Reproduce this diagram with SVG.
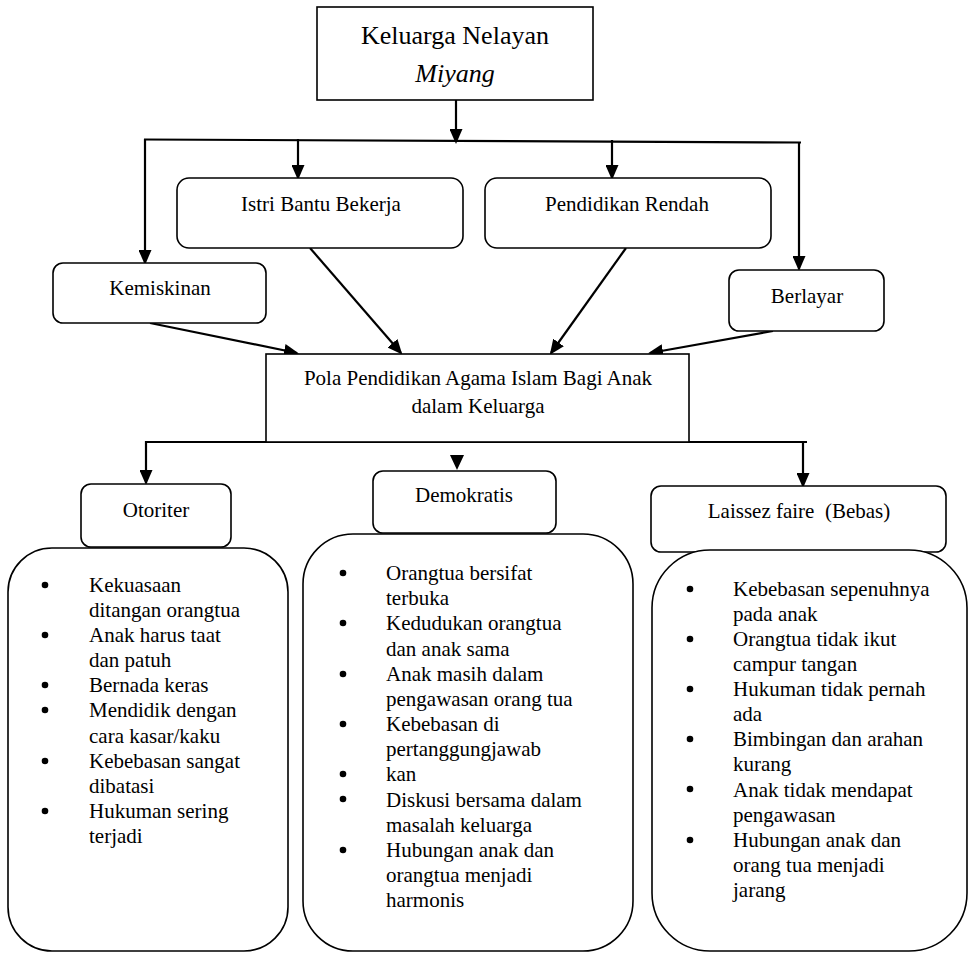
<svg xmlns="http://www.w3.org/2000/svg" width="971" height="953" viewBox="0 0 971 953">
<style>
text{font-family:"Liberation Serif","Times New Roman",serif;fill:#000;font-size:21px}
.box{fill:#fff;stroke:#000;stroke-width:1.6}
.c{stroke:#000;stroke-width:2.2;fill:none}
.m{text-anchor:middle}
.big{font-size:26px}
</style>
<defs>
<marker id="ah" markerUnits="userSpaceOnUse" markerWidth="15" markerHeight="13" refX="13" refY="6.5" orient="auto" viewBox="0 0 15 13">
<path d="M0,0 L15,6.5 L0,13 z" fill="#000"/>
</marker>
</defs>
<rect width="971" height="953" fill="#fff"/>
<g id="connectors">
<line class="c" x1="456" y1="100" x2="456" y2="142" marker-end="url(#ah)"/>
<line class="c" x1="144" y1="139.5" x2="801" y2="142.5"/>
<line class="c" x1="145" y1="139" x2="145" y2="263" marker-end="url(#ah)"/>
<line class="c" x1="298" y1="139" x2="298" y2="178" marker-end="url(#ah)"/>
<line class="c" x1="612" y1="140" x2="612" y2="178" marker-end="url(#ah)"/>
<line class="c" x1="799" y1="142" x2="799" y2="269" marker-end="url(#ah)"/>
<line class="c" x1="150" y1="323" x2="297" y2="353" marker-end="url(#ah)"/>
<line class="c" x1="310" y1="248" x2="401" y2="353" marker-end="url(#ah)"/>
<line class="c" x1="626" y1="248" x2="551" y2="353" marker-end="url(#ah)"/>
<line class="c" x1="773" y1="331" x2="650" y2="353" marker-end="url(#ah)"/>
<line class="c" x1="146" y1="442" x2="807" y2="442"/>
<line class="c" x1="146" y1="441" x2="146" y2="483" marker-end="url(#ah)"/>
<polygon points="450,455 464,455 457,470" fill="#000"/>
<line class="c" x1="803" y1="442" x2="803" y2="486" marker-end="url(#ah)"/>
</g>
<g id="n-top">
<rect class="box" x="317" y="7" width="276" height="93"/>
<text class="m big" x="455" y="44">Keluarga Nelayan</text>
<text class="m big" x="455" y="82" font-style="italic">Miyang</text>
</g>
<g id="n-kemiskinan">
<rect class="box" x="53" y="263" width="213" height="60" rx="10"/>
<text class="m" x="160" y="295">Kemiskinan</text>
</g>
<g id="n-istri">
<rect class="box" x="177" y="178" width="286" height="70" rx="12"/>
<text class="m" x="321" y="211">Istri Bantu Bekerja</text>
</g>
<g id="n-pendidikan">
<rect class="box" x="485" y="178" width="286" height="70" rx="12"/>
<text class="m" x="627" y="211">Pendidikan Rendah</text>
</g>
<g id="n-berlayar">
<rect class="box" x="729" y="270" width="155" height="61" rx="10"/>
<text class="m" x="807" y="303">Berlayar</text>
</g>
<g id="n-pola">
<rect class="box" x="266" y="354" width="423" height="88"/>
<text class="m" x="478" y="385">Pola Pendidikan Agama Islam Bagi Anak</text>
<text class="m" x="478" y="413">dalam Keluarga</text>
</g>
<g id="n-otoriter">
<rect class="box" x="81" y="484" width="150" height="63" rx="10"/>
<text class="m" x="156" y="517">Otoriter</text>
</g>
<g id="n-demokratis">
<rect class="box" x="373" y="471" width="183" height="62" rx="10"/>
<text class="m" x="464" y="502">Demokratis</text>
</g>
<g id="n-laissez">
<rect class="box" x="651" y="486" width="295" height="66" rx="10"/>
<text class="m" x="799" y="518" xml:space="preserve">Laissez faire  (Bebas)</text>
</g>
<g id="n-list-otoriter">
<rect class="box" x="8" y="548" width="280" height="403" rx="44"/>
<g fill="#000">
<circle cx="45" cy="585" r="3.3"/><circle cx="45" cy="635" r="3.3"/><circle cx="45" cy="685" r="3.3"/><circle cx="45" cy="710" r="3.3"/><circle cx="45" cy="761" r="3.3"/><circle cx="45" cy="811" r="3.3"/>
</g>
<text x="89" y="592">Kekuasaan</text>
<text x="89" y="617">ditangan orangtua</text>
<text x="89" y="642">Anak harus taat</text>
<text x="89" y="667">dan patuh</text>
<text x="89" y="692">Bernada keras</text>
<text x="89" y="717">Mendidik dengan</text>
<text x="89" y="743">cara kasar/kaku</text>
<text x="89" y="768">Kebebasan sangat</text>
<text x="89" y="793">dibatasi</text>
<text x="89" y="818">Hukuman sering</text>
<text x="89" y="843">terjadi</text>
</g>
<g id="n-list-demokratis">
<rect class="box" x="303" y="534" width="330" height="417" rx="50"/>
<g fill="#000">
<circle cx="343" cy="573" r="3.3"/><circle cx="343" cy="623" r="3.3"/><circle cx="343" cy="674" r="3.3"/><circle cx="343" cy="724" r="3.3"/><circle cx="343" cy="774" r="3.3"/><circle cx="343" cy="799" r="3.3"/><circle cx="343" cy="850" r="3.3"/>
</g>
<text x="386" y="580">Orangtua bersifat</text>
<text x="386" y="605">terbuka</text>
<text x="386" y="630">Kedudukan orangtua</text>
<text x="386" y="656">dan anak sama</text>
<text x="386" y="681">Anak masih dalam</text>
<text x="386" y="706">pengawasan orang tua</text>
<text x="386" y="731">Kebebasan di</text>
<text x="386" y="756">pertanggungjawab</text>
<text x="386" y="781">kan</text>
<text x="386" y="807">Diskusi bersama dalam</text>
<text x="386" y="832">masalah keluarga</text>
<text x="386" y="857">Hubungan anak dan</text>
<text x="386" y="882">orangtua menjadi</text>
<text x="386" y="907">harmonis</text>
</g>
<g id="n-list-laissez">
<rect class="box" x="652" y="550" width="315" height="401" rx="58"/>
<g fill="#000">
<circle cx="690" cy="589" r="3.3"/><circle cx="690" cy="639" r="3.3"/><circle cx="690" cy="689" r="3.3"/><circle cx="690" cy="739" r="3.3"/><circle cx="690" cy="789" r="3.3"/><circle cx="690" cy="840" r="3.3"/>
</g>
<text x="733" y="596">Kebebasan sepenuhnya</text>
<text x="733" y="621">pada anak</text>
<text x="733" y="646">Orangtua tidak ikut</text>
<text x="733" y="671">campur tangan</text>
<text x="733" y="696">Hukuman tidak pernah</text>
<text x="733" y="721">ada</text>
<text x="733" y="746">Bimbingan dan arahan</text>
<text x="733" y="771">kurang</text>
<text x="733" y="797">Anak tidak mendapat</text>
<text x="733" y="822">pengawasan</text>
<text x="733" y="847">Hubungan anak dan</text>
<text x="733" y="872">orang tua menjadi</text>
<text x="733" y="897">jarang</text>
</g>
</svg>
